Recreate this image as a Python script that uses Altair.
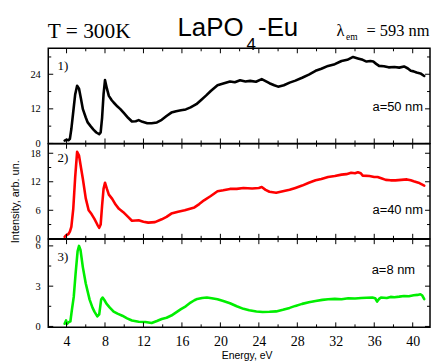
import altair as alt
import pandas as pd

# ---------------- data ----------------
E1 = [3.8, 4.0, 4.2, 4.35, 4.5, 4.7, 4.9, 5.1, 5.3, 5.5, 5.7, 6.0, 6.2, 6.5, 6.8, 7.1, 7.4, 7.55, 7.7, 7.85,
      8.0, 8.2, 8.4, 8.7, 8.9, 9.3, 9.6, 10.0, 10.4, 10.8, 11.2, 11.5, 11.9, 12.4, 12.85, 13.4, 13.9, 14.4, 14.9, 15.4,
      15.9, 16.4, 16.9, 17.5, 18.0, 18.5, 19.0, 19.7, 20.3, 21.0, 21.5, 22.05, 22.6, 23.1, 23.7, 24.3, 24.7, 25.1, 25.6, 26.0,
      26.6, 27.2, 27.8, 28.5, 29.2, 29.9, 30.5, 31.2, 31.9, 32.6, 33.2, 33.8, 34.3, 34.8, 35.2, 35.6, 35.9, 36.2, 36.5, 37.0,
      37.5, 38.1, 38.6, 39.1, 39.5, 39.8, 40.1, 40.4, 40.8, 41.2]
I1 = [1.0, 1.3, 1.1, 1.6, 5.0, 11, 17, 20, 19, 15.5, 11.9, 9, 7.3, 6.0, 4.8, 3.8, 3.2, 3.8, 9, 17,
      22, 19, 16.5, 15, 14.2, 12.8, 11.9, 10.4, 8.9, 7.6, 7.7, 8.1, 7.5, 7.0, 7.0, 7.3, 8.2, 9.5, 10.7, 11.2,
      11.5, 11.8, 12.5, 13.6, 15.1, 16.6, 18.2, 20.2, 20.8, 21.5, 21.2, 21.9, 21.5, 21.7, 21.4, 22.3, 21.6, 20.9, 20.2, 19.7,
      20.2, 21.1, 21.8, 22.8, 23.9, 25.2, 25.9, 26.9, 27.5, 28.6, 29.0, 30.0, 29.5, 29.0, 28.4, 28.6, 28.4, 27.6, 26.9, 26.8,
      26.4, 26.5, 26.3, 26.7, 26.0, 25.2, 25.0, 24.6, 24.3, 23.4]

E2 = [3.8, 4.0, 4.2, 4.35, 4.5, 4.7, 4.9, 5.1, 5.3, 5.5, 5.7, 6.0, 6.3, 6.6, 6.9, 7.2, 7.4, 7.55, 7.7, 7.85,
      8.0, 8.2, 8.4, 8.75, 9.1, 9.45, 9.9, 10.4, 10.8, 11.2, 11.5, 12.0, 12.5, 13.2, 13.9, 14.4, 14.9, 15.6, 16.3, 17.3,
      17.8, 18.3, 19.0, 19.7, 20.3, 21.0, 21.7, 22.4, 23.3, 24.0, 24.3, 24.7, 25.1, 25.8, 26.5, 27.2, 27.8, 28.5, 29.2, 29.9,
      30.5, 31.2, 31.9, 32.6, 33.1, 33.6, 34.0, 34.3, 34.6, 34.8, 35.5, 36.0, 36.35, 36.8, 37.2, 37.7, 38.2, 38.8, 39.4, 39.8,
      40.1, 40.6, 41.2]
I2 = [0.4, 0.8, 1.0, 1.5, 2.5, 6.3, 13, 18.3, 17.5, 15, 12.6, 8.5, 6.0, 5.2, 4.2, 3.0, 2.3, 3.0, 7.0, 10.5,
      11.8, 10.5, 9.3, 8.4, 7.2, 6.3, 5.6, 4.6, 3.8, 3.85, 3.9, 3.6, 3.4, 3.5, 4.1, 4.6, 5.3, 5.7, 6.0, 6.6,
      7.3, 8.1, 9.0, 10.0, 10.2, 10.5, 10.5, 10.7, 10.6, 10.7, 10.9, 10.3, 9.9, 9.7, 10.0, 10.3, 10.7, 11.2, 11.8, 12.3,
      12.6, 13.0, 13.2, 13.5, 13.6, 13.9, 13.8, 14.0, 13.8, 13.3, 13.2, 13.0, 13.0, 12.7, 12.4, 12.3, 12.3, 12.4, 12.5, 12.3,
      12.1, 11.8, 11.2]

E3 = [3.8, 3.95, 4.05, 4.2, 4.4, 4.55, 4.75, 4.95, 5.15, 5.3, 5.45, 5.7, 6.0, 6.4, 6.7, 6.9, 7.2, 7.4, 7.6, 7.75,
      7.95, 8.15, 8.5, 8.9, 9.3, 9.8, 10.3, 10.8, 11.5, 12.2, 12.85, 13.4, 13.9, 14.4, 14.9, 15.4, 15.9, 16.4, 16.9, 17.3,
      17.6, 18.1, 18.6, 19.1, 19.7, 20.3, 21.0, 21.7, 22.4, 23.0, 23.75, 24.4, 25.1, 25.8, 26.5, 27.2, 27.8, 28.5, 29.2, 29.9,
      30.6, 31.2, 31.9, 32.6, 33.3, 34.0, 34.65, 35.2, 35.8, 36.1, 36.3, 36.5, 36.7, 37.3, 37.7, 38.1, 38.6, 39.1, 39.6, 40.1,
      40.5, 40.8, 41.0, 41.2]
I3 = [0.2, 0.45, 0.18, 0.3, 0.37, 1.2, 2.2, 4.0, 5.6, 6.0, 5.7, 4.4, 3.2, 2.0, 1.4, 1.1, 0.75, 0.9, 2.0, 2.15,
      1.95, 1.7, 1.4, 1.1, 0.95, 0.8, 0.6, 0.44, 0.35, 0.33, 0.25, 0.4, 0.55, 0.65, 0.81, 1.05, 1.29, 1.5, 1.78, 1.95,
      2.05, 2.12, 2.15, 2.1, 2.03, 1.9, 1.73, 1.5, 1.31, 1.2, 1.11, 1.08, 1.09, 1.12, 1.24, 1.38, 1.53, 1.68, 1.8, 1.9,
      1.98, 2.02, 2.05, 2.02, 2.1, 2.08, 2.12, 2.14, 2.15, 2.1, 1.85, 2.05, 2.15, 2.12, 2.2, 2.18, 2.22, 2.27, 2.25, 2.32,
      2.35, 2.4, 2.3, 2.03]

x_major = [4, 8, 12, 16, 20, 24, 28, 32, 36, 40]
x_minor = [6, 10, 14, 18, 22, 26, 30, 34, 38]
y_major = [[0, 12, 24], [0, 6, 12, 18], [0, 3, 6]]
y_minor = [[6, 18, 30], [3, 9, 15], [1.5, 4.5]]
y_domains = [[0, 33], [0, 20], [-0.07, 6.5]]
x_domain = [2.1, 41.8]

panel_tags = ["1)", "2)", "3)"]
size_labels = ["a=50 nm", "a=40 nm", "a=8 nm"]
colors = ["#000000", "#ff0000", "#00ee00"]

title_main = "LaPO"
title_sub = "4"
title_tail = "-Eu"
title_temp = "T = 300K"
title_lam = "\u03bb"
title_lam_sub = "em"
title_lam_val = "= 593 nm"
x_title = "Energy, eV"
y_title = "Intensity, arb. un."

# ---------------- layout / style ----------------
W = 384
HEIGHTS = [95.7, 95.6, 88.7]
SERIF = "Liberation Serif"
SANS = "Liberation Sans"
TAG_Y = [17.5, 14.5, 18.4]
SIZE_Y = [59, 66.3, 30.8]
SIZE_X = [377, 377, 369]

xs = alt.Scale(domain=x_domain, nice=False, zero=False)


def txt(s):
    return alt.Chart(pd.DataFrame({"t": [s]}))


def panel(i, E, I, show_x):
    H = HEIGHTS[i]
    ys = alt.Scale(domain=y_domains[i], nice=False, zero=False)
    if show_x:
        xaxis = alt.Axis(values=x_major, format="d", labelFont=SERIF, labelFontSize=14, labelColor="#000",
                         ticks=False, domain=False, grid=False, labelPadding=7, title=None, labelFlush=False)
    else:
        xaxis = None
    yaxis = alt.Axis(values=y_major[i], format="d", labelFont=SERIF, labelFontSize=10.5, labelColor="#000",
                     ticks=False, domain=False, grid=False, labelPadding=8, title=None, labelFlush=False)
    X = alt.X("E:Q", scale=xs, axis=xaxis)
    Y = alt.Y("I:Q", scale=ys, axis=yaxis)

    layers = []
    line = alt.Chart(pd.DataFrame({"E": E, "I": I})).mark_line(
        color=colors[i], strokeWidth=2.6, strokeJoin="round", strokeCap="round").encode(x=X, y=Y)
    layers.append(line)

    for vals, L in [(x_major, 5), (x_minor, 3)]:
        d = pd.DataFrame({"E": vals})
        layers.append(alt.Chart(d).mark_rule(color="#000", strokeWidth=1).encode(
            x=X, y=alt.value(0), y2=alt.value(L)))
        layers.append(alt.Chart(d).mark_rule(color="#000", strokeWidth=1).encode(
            x=X, y=alt.value(H), y2=alt.value(H - L)))
    for vals, L in [(y_major[i], 5), (y_minor[i], 3)]:
        d = pd.DataFrame({"I": vals})
        layers.append(alt.Chart(d).mark_rule(color="#000", strokeWidth=1).encode(
            y=Y, x=alt.value(0), x2=alt.value(L)))
        layers.append(alt.Chart(d).mark_rule(color="#000", strokeWidth=1).encode(
            y=Y, x=alt.value(W), x2=alt.value(W - L)))

    layers.append(txt(panel_tags[i]).mark_text(font=SERIF, fontSize=13, align="left", baseline="middle",
                                               color="#000").encode(
        x=alt.value(9.4), y=alt.value(TAG_Y[i]), text="t:N"))
    layers.append(txt(size_labels[i]).mark_text(font=SANS, fontSize=13, align="right", baseline="middle",
                                                color="#000").encode(
        x=alt.value(SIZE_X[i]), y=alt.value(SIZE_Y[i]), text="t:N"))

    if i == 0:
        layers.append(txt(title_temp).mark_text(font=SERIF, fontSize=21.5, align="left", baseline="alphabetic",
                                                color="#000").encode(x=alt.value(-0.5), y=alt.value(-10), text="t:N"))
        layers.append(txt(title_main).mark_text(font=SANS, fontSize=26, align="left", baseline="alphabetic",
                                                color="#000").encode(x=alt.value(130), y=alt.value(-12.7), text="t:N"))
        layers.append(txt(title_sub).mark_text(font=SANS, fontSize=17, align="left", baseline="alphabetic",
                                               color="#000").encode(x=alt.value(199.5), y=alt.value(2), text="t:N"))
        layers.append(txt(title_tail).mark_text(font=SANS, fontSize=26, align="left", baseline="alphabetic",
                                                color="#000").encode(x=alt.value(211), y=alt.value(-12.7), text="t:N"))
        layers.append(txt(title_lam).mark_text(font=SERIF, fontSize=16.5, align="left", baseline="alphabetic",
                                               color="#000").encode(x=alt.value(290), y=alt.value(-12.7), text="t:N"))
        layers.append(txt(title_lam_sub).mark_text(font=SERIF, fontSize=9.5, align="left", baseline="alphabetic",
                                                   color="#000").encode(x=alt.value(299.5), y=alt.value(-8.7), text="t:N"))
        layers.append(txt(title_lam_val).mark_text(font=SERIF, fontSize=16.5, align="right", baseline="alphabetic",
                                                   color="#000").encode(x=alt.value(383.5), y=alt.value(-12.7), text="t:N"))
    if i == 1:
        layers.append(txt(y_title).mark_text(font=SANS, fontSize=11, align="center", baseline="middle", angle=270,
                                             color="#000").encode(x=alt.value(-32), y=alt.value(58.3), text="t:N"))
    if i == 2:
        layers.append(txt(x_title).mark_text(font=SANS, fontSize=10.5, align="center", baseline="alphabetic",
                                             color="#000").encode(x=alt.value(200), y=alt.value(H + 32), text="t:N"))

    return alt.layer(*layers).properties(width=W, height=H)


p1 = panel(0, E1, I1, False)
p2 = panel(1, E2, I2, False)
p3 = panel(2, E3, I3, True)

chart = alt.vconcat(p1, p2, p3, spacing=0, bounds="flush").properties(
    padding={"left": 1.5, "top": 4.5, "right": 0, "bottom": 0},
    background="white",
).configure_view(stroke="#000", strokeWidth=1.5).configure_concat(spacing=0)

chart.save("out.html", embed_options={"renderer": "svg", "actions": False})
